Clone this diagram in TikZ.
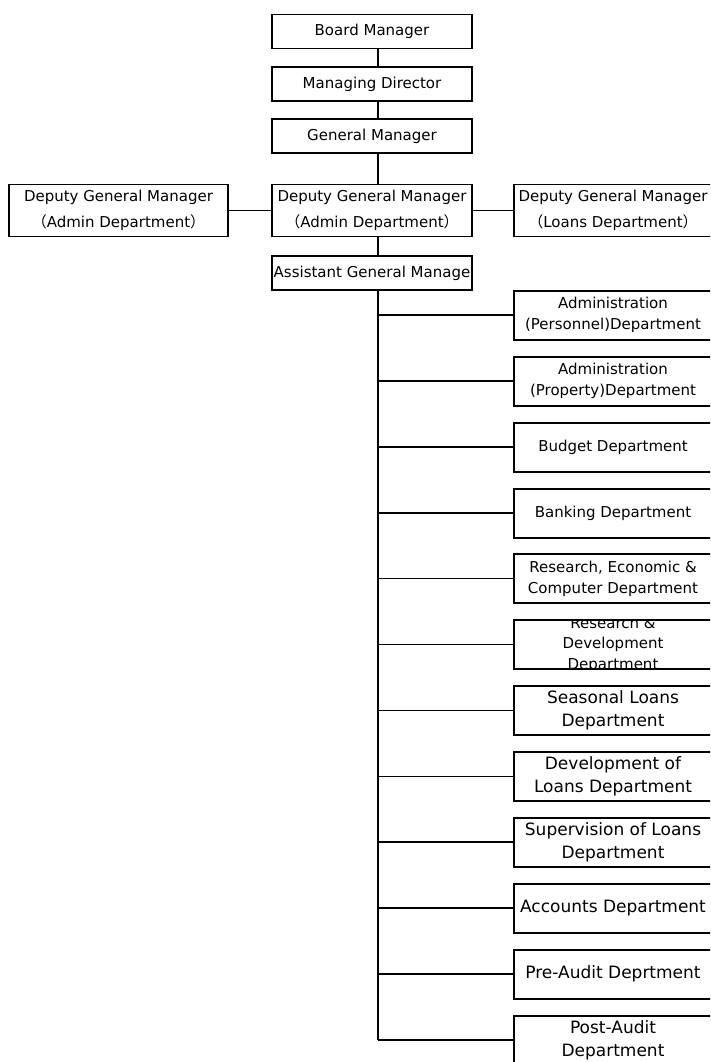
\documentclass[tikz,border=0pt]{standalone}
\usepackage{fontspec}
\setmainfont{DejaVu Sans}
\newfontfamily\cjk{Noto Sans CJK JP}
\newcommand{\lp}{{\cjk （}}
\newcommand{\rp}{{\cjk ）}}
\begin{document}
\begin{tikzpicture}[x=1pt,y=-1pt,
  box/.style={draw=black, line width=1.6pt, fill=white, minimum width=200pt,
    minimum height=34pt, inner sep=0pt, align=center,
    font=\fontsize{15}{21}\selectfont},
  dgm/.style={box, minimum height=52pt, font=\fontsize{15}{26}\selectfont},
  dept/.style={draw=black, line width=2pt, fill=white, minimum width=198pt,
    minimum height=49pt, inner sep=0pt, align=center,
    font=\fontsize{15}{21}\selectfont},
  deptl/.style={dept, font=\fontsize{17}{23}\selectfont},
  link/.style={draw=black, line width=1.7pt}]
\useasboundingbox (0,0) rectangle (710,1062);
\clip (0,0) rectangle (710,1062);
\fill[white] (0,0) rectangle (710,1062);

% main chain of command
\node[box] (bm) at (372,31.5) {Board Manager};
\node[box] (md) at (372,84) {Managing Director};
\node[box] (gm) at (372,136) {General Manager};
\node[dgm] (dgmc) at (372,210.5) {Deputy General Manager\\\lp Admin Department\rp};
\node[dgm, minimum width=219pt] (dgml) at (118.5,210.5) {Deputy General Manager\\\lp Admin Department\rp};
\node[dgm, minimum width=198pt] (dgmr) at (613,210.5) {Deputy General Manager\\\lp Loans Department\rp};
\node[box, path picture={\node[font=\fontsize{15}{21}\selectfont] at (path picture bounding box.center) {Assistant General Manage};}] (agm) at (372,273) {};

% departments
\node[dept] (d1) at (613,315) {Administration\\(Personnel)Department};
\node[dept] (d2) at (613,381) {Administration\\(Property)Department};
\node[dept] (d3) at (613,447) {Budget Department};
\node[dept] (d4) at (613,513) {Banking Department};
\node[dept] (d5) at (613,578.5) {Research, Economic \&\\Computer Department};
\node[dept, path picture={\node[align=center, font=\fontsize{15}{20.5}\selectfont] at (path picture bounding box.center) {Research \&\\Development\\Department};}] (d6) at (613,644.5) {};
\node[deptl] (d7) at (613,710.5) {Seasonal Loans\\Department};
\node[deptl] (d8) at (613,776.5) {Development of\\Loans Department};
\node[deptl] (d9) at (613,842) {Supervision of Loans\\Department};
\node[deptl] (d10) at (613,908) {Accounts Department};
\node[deptl] (d11) at (613,974) {Pre-Audit Deprtment};
\node[deptl] (d12) at (613,1040) {Post-Audit\\Department};

% connectors
\coordinate (spine) at (378,0);
\draw[link] (bm.south -| spine) -- (md.north -| spine);
\draw[link] (md.south -| spine) -- (gm.north -| spine);
\draw[link] (gm.south -| spine) -- (dgmc.north -| spine);
\draw[link] (dgmc.south -| spine) -- (agm.north -| spine);
\draw[link] (dgml.east) -- (dgmc.west);
\draw[link] (dgmc.east) -- (dgmr.west);
\draw[link] (agm.south -| spine) -- (spine |- d12.west);
\foreach \n in {d1,d2,d3,d4,d5,d6,d7,d8,d9,d10,d11,d12}
  \draw[link] (spine |- \n.west) -- (\n.west);
\end{tikzpicture}
\end{document}
